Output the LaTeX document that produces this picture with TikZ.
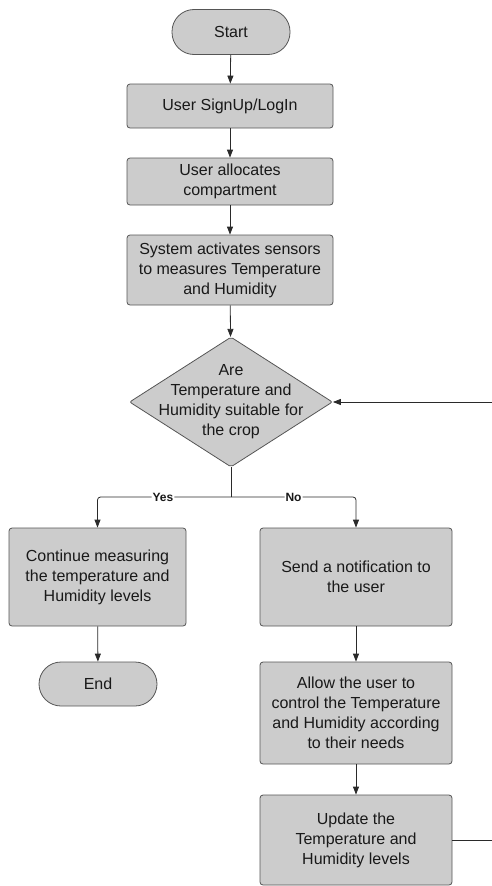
\documentclass[tikz,border=0pt]{standalone}
\usepackage{fontspec}
\setmainfont{Liberation Sans}
\usetikzlibrary{shapes.geometric,arrows.meta}
\definecolor{boxfill}{HTML}{CCCCCC}
\definecolor{boxline}{HTML}{555555}
\definecolor{conn}{HTML}{2A2A2A}
\begin{document}
\begin{tikzpicture}[x=1pt,y=-1pt,
  every node/.style={font=\fontsize{16}{20}\selectfont, text=black!90},
  procbox/.style={draw=boxline, fill=boxfill, line width=0.8pt, rounded corners=3pt, align=center, inner sep=0pt},
  termbox/.style={draw=boxline, fill=boxfill, line width=0.8pt, rounded corners=22pt, align=center, inner sep=0pt},
  decbox/.style={draw=boxline, fill=boxfill, line width=0.8pt, diamond, rounded corners=2pt, inner sep=0pt, aspect=1.56},
  arr/.style={draw=conn, line width=0.8pt, -{Triangle[length=8pt,width=6pt]}},
  lin/.style={draw=conn, line width=0.8pt},
  lbl/.style={font=\fontsize{12}{14}\selectfont\bfseries, fill=white, inner sep=1pt}]
\useasboundingbox (0,0) rectangle (492,886);
\node[termbox, minimum width=118pt, minimum height=45pt] (start) at (231,32) {Start};
\node[procbox, minimum width=206pt, minimum height=44pt] (b1) at (230,106) {User SignUp/LogIn};
\node[procbox, minimum width=206pt, minimum height=47pt] (b2) at (230,181.5) {User allocates\\compartment};
\node[procbox, minimum width=206pt, minimum height=70pt] (b3) at (230,270) {System activates sensors\\to measures Temperature\\and Humidity};
\node[decbox, minimum width=203pt, minimum height=130pt] (d) at (231,402) {};
\node[align=center, inner sep=0pt] (dt) at (231,402) {Are\\Temperature and\\Humidity suitable for\\the crop};
\coordinate (br) at (231,497);
\node[procbox, minimum width=177pt, minimum height=98pt] (l1) at (97.5,577) {Continue measuring\\the temperature and\\Humidity levels};
\node[termbox, minimum width=118pt, minimum height=44pt] (end) at (98,684) {End};
\node[procbox, minimum width=192pt, minimum height=98pt] (r1) at (356,577) {Send a notification to\\the user};
\node[procbox, minimum width=192pt, minimum height=102pt] (r2) at (356,713) {Allow the user to\\control the Temperature\\and Humidity according\\to their needs};
\node[procbox, minimum width=192pt, minimum height=90pt] (r3) at (356,840) {Update the\\Temperature and\\Humidity levels};
\coordinate (eout) at (492,840);
\coordinate (ein) at (492,402);

\draw[arr] (start) -- (b1);
\draw[arr] (b1) -- (b2);
\draw[arr] (b2) -- (b3);
\draw[arr] (b3) -- (d);
\draw[lin] (d.south) -- (br);
\draw[arr, rounded corners=3pt] (br) -| node[lbl, pos=0.255] {Yes} (l1.north);
\draw[arr, rounded corners=3pt] (br) -| node[lbl, pos=0.25] {No} (r1.north);
\draw[arr] (l1) -- (end);
\draw[arr] (r1) -- (r2);
\draw[arr] (r2) -- (r3);
\draw[lin] (r3.east) -- (eout);
\draw[arr] (ein) -- (d.east);
\end{tikzpicture}
\end{document}
